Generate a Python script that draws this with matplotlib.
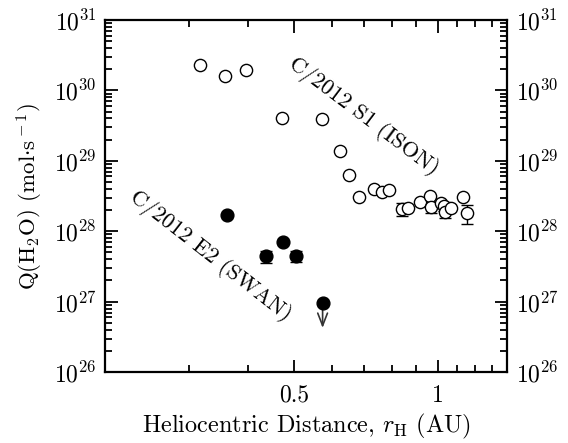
import matplotlib
matplotlib.use("Agg")
import matplotlib.pyplot as plt
import numpy as np
from matplotlib.ticker import FixedLocator, FixedFormatter, LogLocator, NullFormatter

plt.rcParams['font.family'] = 'serif'
plt.rcParams['font.serif'] = ['cmr10']
plt.rcParams['mathtext.fontset'] = 'cm'
plt.rcParams['axes.formatter.use_mathtext'] = True

# C/2012 S1 (ISON) - open circles
ison_r = [0.317, 0.358, 0.396, 0.470, 0.570, 0.622, 0.650, 0.682, 0.736, 0.762, 0.792,
          0.843, 0.865, 0.916, 0.962, 0.966, 1.014, 1.030, 1.035, 1.065, 1.129, 1.151]
ison_q = [2.3e30, 1.6e30, 1.95e30, 4.1e29, 3.9e29, 1.38e29, 6.3e28, 3.06e28, 3.97e28, 3.6e28, 3.85e28,
          2.07e28, 2.14e28, 2.6e28, 3.16e28, 2.21e28, 2.52e28, 2.28e28, 1.87e28, 2.14e28, 3.06e28, 1.8e28]
ison_err = [0, 0, 0, 0, 0, 0, 0, 0, 0, 0, 0,
            0.45e28, 0, 0, 0, 0.4e28, 0, 0.35e28, 0.35e28, 0, 0, 0.55e28]

# C/2012 E2 (SWAN) - filled circles
swan_r = [0.361, 0.436, 0.472, 0.505]
swan_q = [1.7e28, 4.4e27, 7.0e27, 4.5e27]
swan_err = [0, 0.9e27, 0, 0.8e27]

# upper limit for SWAN
lim_r = 0.573
lim_q = 9.6e26

fig = plt.figure(figsize=(5.68, 4.43), dpi=100)
ax = fig.add_axes([0.185, 0.160, 0.708, 0.795])
ax.set_xscale('log')
ax.set_yscale('log')
ax.set_xlim(0.2, 1.4)
ax.set_ylim(1e26, 1e31)

# error bars first, markers on top
ax.errorbar(ison_r, ison_q, yerr=ison_err, fmt='none', ecolor='black', elinewidth=1,
            capsize=4, capthick=1, zorder=2)
ax.plot(ison_r, ison_q, 'o', ms=8.8, mfc='white', mec='black', mew=1, zorder=3)

ax.errorbar(swan_r, swan_q, yerr=swan_err, fmt='none', ecolor='black', elinewidth=1,
            capsize=4, capthick=1, zorder=2)
ax.plot(swan_r, swan_q, 'o', ms=9.2, color='black', zorder=3)
ax.plot([lim_r], [lim_q], 'o', ms=9.2, color='black', zorder=3)
ax.annotate('', xy=(lim_r, lim_q), xytext=(0, -18), textcoords='offset points',
            arrowprops=dict(arrowstyle='<-, head_length=0.9, head_width=0.35', color='#333333',
                            lw=1.2, shrinkA=0, shrinkB=0), zorder=2)

# comet labels
ax.text(0.698, 4.3e29, 'C/2012 S1 (ISON)', rotation=-37, fontsize=16,
        ha='center', va='center')
ax.text(0.333, 4.4e27, 'C/2012 E2 (SWAN)', rotation=-38, fontsize=16,
        ha='center', va='center')

# ticks
ax.xaxis.set_major_locator(FixedLocator([0.5, 1.0]))
ax.xaxis.set_major_formatter(FixedFormatter(['0.5', '1']))
ax.xaxis.set_minor_locator(FixedLocator([0.3, 0.4, 0.6, 0.7, 0.8, 0.9, 1.1, 1.2, 1.3]))
ax.xaxis.set_minor_formatter(NullFormatter())
ax.yaxis.set_major_locator(LogLocator(base=10, numticks=10))
ax.yaxis.set_minor_locator(LogLocator(base=10, subs=np.arange(2, 10), numticks=20))
ax.yaxis.set_minor_formatter(NullFormatter())

ax.tick_params(which='both', direction='in', top=True, right=True, labelright=True,
               labelsize=17, width=1.3)
ax.tick_params(which='major', length=9)
ax.tick_params(which='minor', length=5)
ax.tick_params(axis='x', pad=9)
ax.tick_params(axis='y', pad=6)
for s in ax.spines.values():
    s.set_linewidth(1.6)

ax.set_xlabel(r'Heliocentric Distance, $r_{\rm H}$ (AU)', fontsize=17.5, labelpad=4)
ax.set_ylabel(r'Q(H$_2$O) (mol$\cdot$s$^{\rm -1}$)', fontsize=16.5, labelpad=6)

fig.savefig('out.png', dpi=100)
